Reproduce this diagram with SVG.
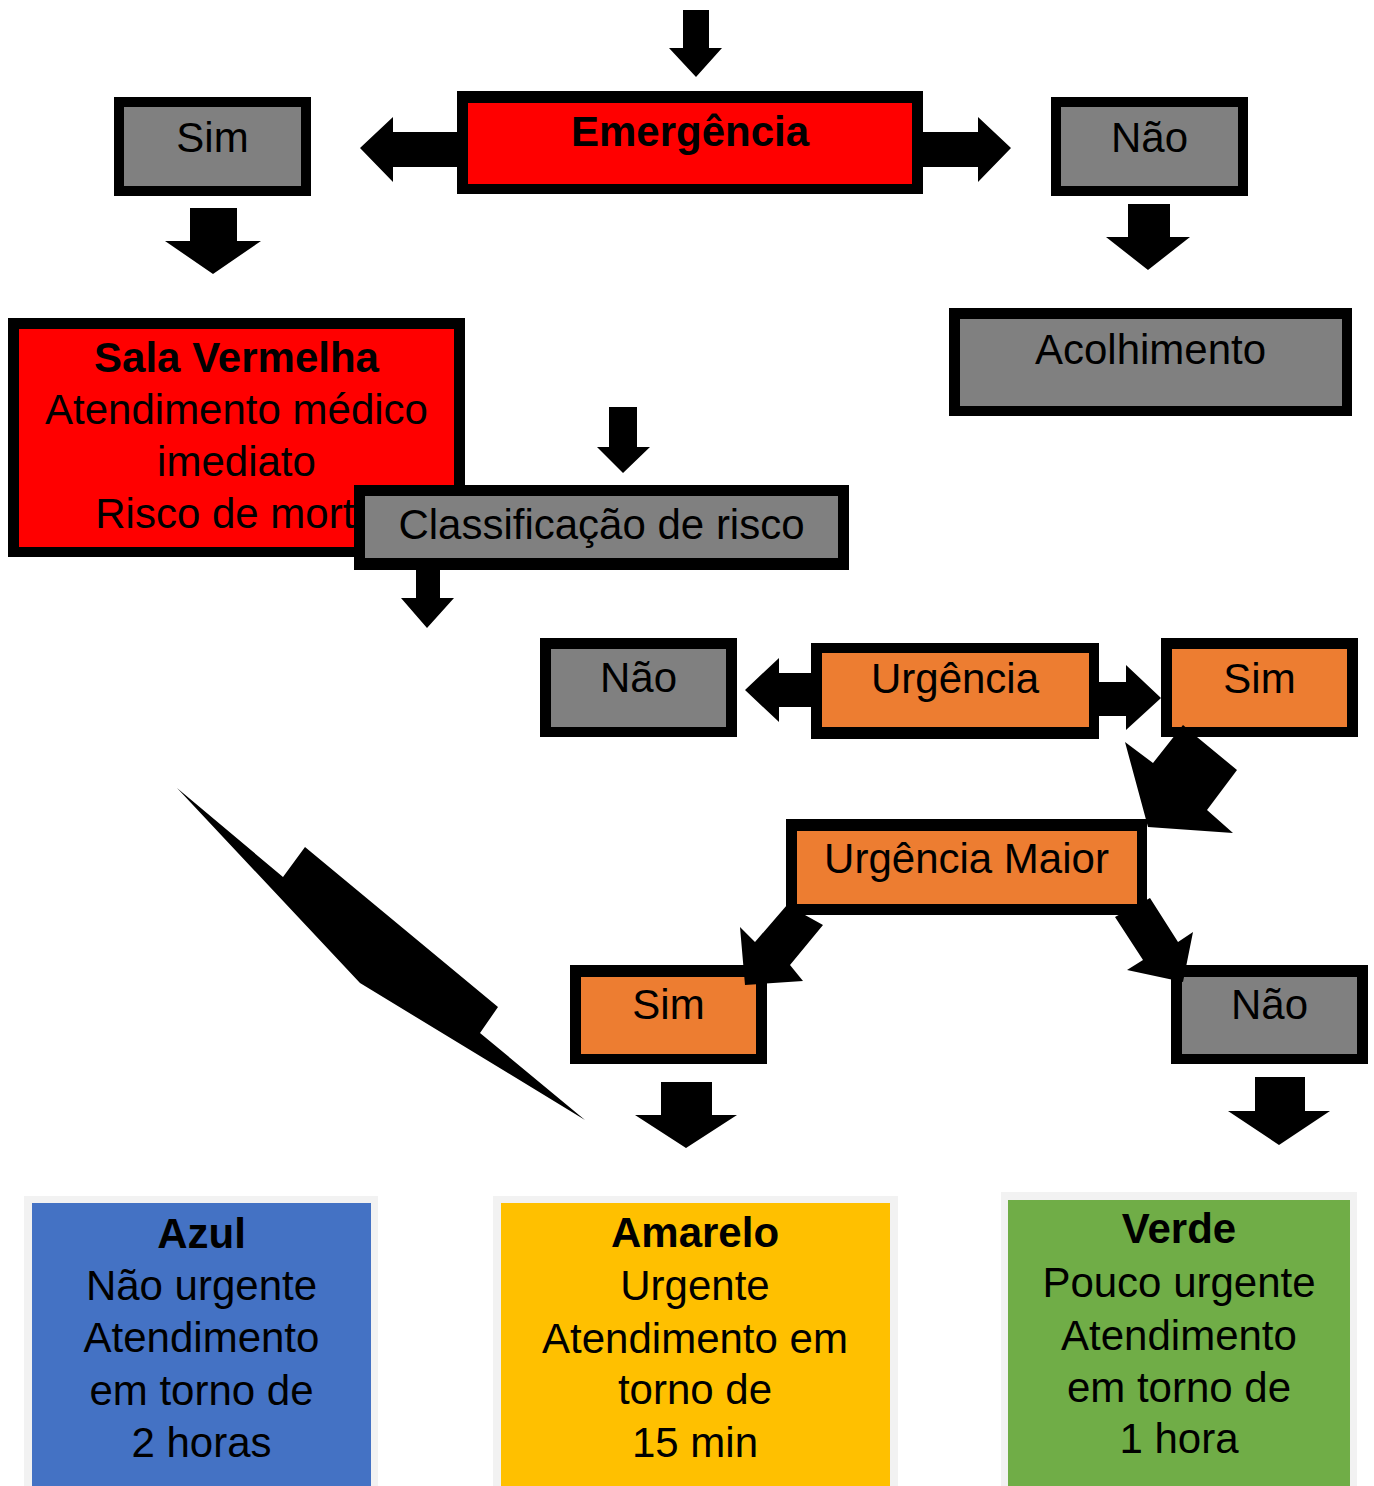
<svg xmlns="http://www.w3.org/2000/svg" width="1374" height="1486" viewBox="0 0 1374 1486">
<style>
  text { font-family: "Liberation Sans", Arial, sans-serif; font-size: 42px; fill: #000; text-anchor: middle; }
  .b { font-weight: bold; }
  .frame { fill: #000; }
  .red { fill: #ff0000; }
  .gray { fill: #808080; }
  .orange { fill: #ed7d31; }
  .light { fill: #f2f2f2; }
  .blue { fill: #4472c4; }
  .yellow { fill: #ffc000; }
  .green { fill: #70ad47; }
  .arrow { fill: #000; }
</style>
<rect width="1374" height="1486" fill="#fff"/>

<g id="node-sala-vermelha">
  <rect class="frame" x="8" y="318" width="457" height="239"/>
  <rect class="red" x="19" y="329" width="435" height="218"/>
  <text class="b" x="236.5" y="372">Sala Vermelha</text>
  <text x="236.5" y="424">Atendimento médico</text>
  <text x="236.5" y="476">imediato</text>
  <text x="236.5" y="528">Risco de morte</text>
</g>

<g id="node-emergencia">
  <rect class="frame" x="457" y="91" width="466" height="103"/>
  <rect class="red" x="468" y="103" width="444" height="81"/>
  <text class="b" x="690" y="146">Emergência</text>
</g>

<g id="node-sim-1">
  <rect class="frame" x="114" y="97" width="197" height="99"/>
  <rect class="gray" x="124" y="107" width="177" height="79"/>
  <text x="212.5" y="152">Sim</text>
</g>

<g id="node-nao-1">
  <rect class="frame" x="1051" y="97" width="197" height="99"/>
  <rect class="gray" x="1061" y="107" width="177" height="79"/>
  <text x="1149.5" y="152">Não</text>
</g>

<g id="node-acolhimento">
  <rect class="frame" x="949" y="308" width="403" height="108"/>
  <rect class="gray" x="960" y="319" width="382" height="87"/>
  <text x="1150.5" y="364">Acolhimento</text>
</g>

<g id="node-classificacao">
  <rect class="frame" x="354" y="485" width="495" height="85"/>
  <rect class="gray" x="365" y="496" width="473" height="62"/>
  <text x="601.5" y="539">Classificação de risco</text>
</g>

<g id="node-nao-2">
  <rect class="frame" x="540" y="638" width="197" height="99"/>
  <rect class="gray" x="551" y="649" width="175" height="78"/>
  <text x="638.5" y="692">Não</text>
</g>

<g id="node-urgencia">
  <rect class="frame" x="811" y="643" width="288" height="96"/>
  <rect class="orange" x="822" y="653" width="267" height="74"/>
  <text x="955" y="693">Urgência</text>
</g>

<g id="node-sim-2">
  <rect class="frame" x="1161" y="638" width="197" height="99"/>
  <rect class="orange" x="1172" y="649" width="175" height="78"/>
  <text x="1259.5" y="693">Sim</text>
</g>

<g id="node-urgencia-maior">
  <rect class="frame" x="786" y="819" width="361" height="96"/>
  <rect class="orange" x="797" y="831" width="340" height="73"/>
  <text x="966.5" y="873">Urgência Maior</text>
</g>

<g id="node-sim-3">
  <rect class="frame" x="570" y="965" width="197" height="99"/>
  <rect class="orange" x="581" y="977" width="175" height="77"/>
  <text x="668.5" y="1019">Sim</text>
</g>

<g id="node-nao-3">
  <rect class="frame" x="1171" y="965" width="197" height="99"/>
  <rect class="gray" x="1182" y="977" width="175" height="77"/>
  <text x="1269.5" y="1019">Não</text>
</g>

<g id="node-azul">
  <rect class="light" x="24" y="1196" width="354" height="290"/>
  <rect class="blue" x="32" y="1203" width="339" height="283"/>
  <text class="b" x="201.5" y="1248">Azul</text>
  <text x="201.5" y="1300">Não urgente</text>
  <text x="201.5" y="1352">Atendimento</text>
  <text x="201.5" y="1405">em torno de</text>
  <text x="201.5" y="1457">2 horas</text>
</g>

<g id="node-amarelo">
  <rect class="light" x="493" y="1196" width="405" height="290"/>
  <rect class="yellow" x="501" y="1203" width="389" height="283"/>
  <text class="b" x="695" y="1247">Amarelo</text>
  <text x="695" y="1300">Urgente</text>
  <text x="695" y="1353">Atendimento em</text>
  <text x="695" y="1404">torno de</text>
  <text x="695" y="1457">15 min</text>
</g>

<g id="node-verde">
  <rect class="light" x="1001" y="1192" width="356" height="294"/>
  <rect class="green" x="1008" y="1200" width="342" height="286"/>
  <text class="b" x="1179" y="1243">Verde</text>
  <text x="1179" y="1297">Pouco urgente</text>
  <text x="1179" y="1350">Atendimento</text>
  <text x="1179" y="1402">em torno de</text>
  <text x="1179" y="1453">1 hora</text>
</g>

<g id="connectors">
  <!-- top arrow into Emergência -->
  <polygon class="arrow" points="683,10 709,10 709,48 722,48 696,77 669,48 683,48"/>
  <!-- Emergência -> Sim -->
  <polygon class="arrow" points="457,132 393,132 393,117 360,148 393,182 393,167 457,167"/>
  <!-- Emergência -> Não -->
  <polygon class="arrow" points="923,132 978,132 978,117 1011,148 978,182 978,167 923,167"/>
  <!-- Sim -> Sala Vermelha -->
  <polygon class="arrow" points="190,208 237,208 237,241 261,241 213,274 165,241 190,241"/>
  <!-- Não -> Acolhimento -->
  <polygon class="arrow" points="1128,204 1170,204 1170,237 1190,237 1148,270 1106,237 1128,237"/>
  <!-- into Classificação -->
  <polygon class="arrow" points="609,407 637,407 637,447 650,447 623,473 597,447 609,447"/>
  <!-- below Classificação -->
  <polygon class="arrow" points="416,570 440,570 440,598 454,598 427,628 401,598 416,598"/>
  <!-- Urgência -> Não -->
  <polygon class="arrow" points="811,673 779,673 779,658 745,690 779,722 779,707 811,707"/>
  <!-- Urgência -> Sim -->
  <polygon class="arrow" points="1099,682 1126,682 1126,665 1161,698 1126,730 1126,716 1099,716"/>
  <!-- Sim -> Urgência Maior -->
  <polygon class="arrow" points="1183,725 1197,737 1237,770 1207,810 1233,833 1148,827 1125,742 1153,763"/>
  <!-- Urgência Maior -> Sim -->
  <polygon class="arrow" points="787,905 823,925 790,965 803,981 745,985 740,927 755,942"/>
  <!-- Urgência Maior -> Não -->
  <polygon class="arrow" points="1150,898 1178,942 1193,932 1183,982 1127,970 1143,960 1115,917"/>
  <!-- long diagonal arrow -->
  <polygon class="arrow" points="177,788 283,877 305,847 498,1007 480,1033 585,1120 360,983"/>
  <!-- Sim -> Amarelo -->
  <polygon class="arrow" points="661,1082 712,1082 712,1115 737,1115 686,1148 635,1115 661,1115"/>
  <!-- Não -> Verde -->
  <polygon class="arrow" points="1255,1077 1305,1077 1305,1111 1330,1111 1279,1145 1228,1111 1255,1111"/>
</g>
</svg>
